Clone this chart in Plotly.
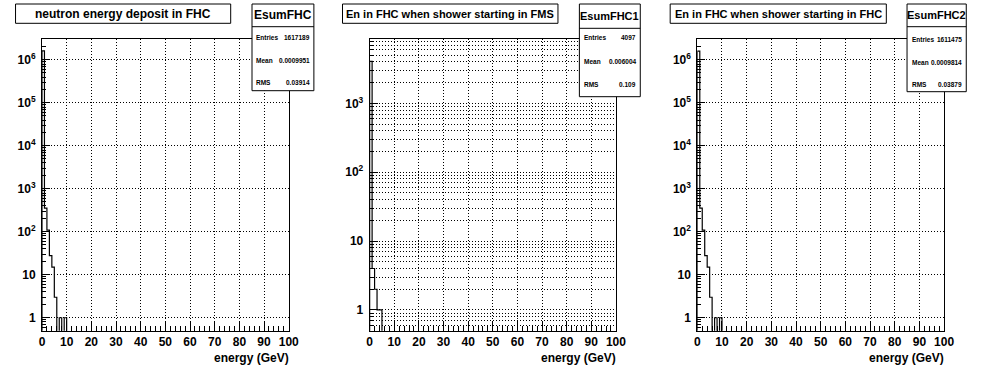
import math
import plotly.graph_objects as go

W, H = 996, 372
FONT = "Liberation Sans, Arial, Helvetica, sans-serif"

# ---------------- data ----------------
bin_width = 1.0                      # GeV per bin
counts_fhc = [1616672, 355, 110, 28, 15, 3, 0, 1, 0, 1]
counts_fhc1 = [4089, 4, 2, 1, 1]
counts_fhc2 = [1610958, 355, 110, 28, 15, 3, 0, 1, 0, 1]

panel_titles = ["neutron energy deposit in FHC",
                "En in FHC when shower starting in FMS",
                "En in FHC when shower starting in FHC"]
hist_names = ["EsumFHC", "EsumFHC1", "EsumFHC2"]
stat_entries = ["1617189", "4097", "1611475"]
stat_means = ["0.0009951", "0.006004", "0.0009814"]
stat_rms = ["0.03914", "0.109", "0.03879"]

x_ticks = [0, 10, 20, 30, 40, 50, 60, 70, 80, 90, 100]
x_minor = [v for v in range(0, 101, 2) if v % 10 != 0]
y_ticks_big = [1, 10, 100, 1000, 10000, 100000, 1000000]
y_ticktext_big = ["1", "10", "10<sup>2</sup>", "10<sup>3</sup>", "10<sup>4</sup>",
                  "10<sup>5</sup>", "10<sup>6</sup>"]
y_ticks_small = [1, 10, 100, 1000]
y_ticktext_small = ["1", "10", "10<sup>2</sup>", "10<sup>3</sup>"]
y_min = 0.5
y_top_log = [6.48, 3.93, 6.48]
x_title = "energy (GeV)"

all_counts = [counts_fhc, counts_fhc1, counts_fhc2]

# ---------------- layout geometry (pixels) ----------------
frames_x = [(39.5, 289.5), (371.5, 621.0), (703.5, 953.5)]
frame_y = (39.3, 330.7)
title_boxes = [(12.7, 230.7), (344.0, 562.3), (676.0, 895.0)]
title_box_y = (4.0, 23.3)
title_sizes = [12, 11, 11]
stat_boxes = [(252.3, 315.0, 90.7, 26.7), (584.0, 645.7, 96.7, 28.3), (916.0, 976.0, 91.7, 26.7)]
stat_name_sizes = [12, 11, 11]
stat_rows = [(37.3, 61.0, 82.7), (37.7, 61.7, 84.0), (39.3, 62.7, 84.3)]
DOT = "1px,2px"


def px(x):
    return x / W


def py(y):
    return 1 - y / H


def step_xy(counts):
    floor = 1e-3
    xs, ys = [0.0], [floor]
    for i, c in enumerate(counts):
        xs.append(i * bin_width)
        ys.append(c if c > 0 else floor)
    xs.append(len(counts) * bin_width)
    ys.append(floor)
    return xs, ys


fig = go.Figure()
layout = dict(width=W, height=H, margin=dict(l=0, r=0, t=0, b=0),
              paper_bgcolor="white", plot_bgcolor="white", showlegend=False,
              font=dict(family=FONT, color="black", size=12))
shapes, annotations = [], []

for k in range(3):
    sfx = "" if k == 0 else str(k + 1)
    xs, ys = step_xy(all_counts[k])
    fig.add_trace(go.Scatter(x=xs, y=ys, mode="lines", line=dict(color="black", width=1.2, shape="hv"),
                             xaxis="x" + sfx, yaxis="y" + sfx, hoverinfo="skip"))
    fx0, fx1 = frames_x[k]
    top = y_top_log[k]
    if k == 1:
        yt, ytt = y_ticks_small, y_ticktext_small
    else:
        yt, ytt = y_ticks_big, y_ticktext_big
    ndec = int(math.floor(top))
    yminor = [m * 10 ** d for d in range(0, ndec + 1) for m in range(2, 10) if m * 10 ** d < 10 ** top]
    yminor = [0.6, 0.7, 0.8, 0.9] + yminor
    layout["xaxis" + sfx] = dict(
        domain=[px(fx0), px(fx1)], anchor="y" + sfx, range=[0, 100],
        tickmode="array", tickvals=x_ticks, ticks="inside", ticklen=9, tickwidth=1, tickcolor="black",
        minor=dict(tickmode="array", tickvals=x_minor, ticks="inside", ticklen=4.5, tickwidth=1,
                   tickcolor="black", showgrid=False),
        showgrid=True, griddash=DOT, gridcolor="black", gridwidth=1,
        showline=True, mirror=True, linecolor="black", linewidth=1, zeroline=False,
        tickfont=dict(family=FONT, size=12, color="black", weight="bold"))
    layout["yaxis" + sfx] = dict(
        domain=[py(frame_y[1]), py(frame_y[0])], anchor="x" + sfx, type="log",
        range=[math.log10(y_min), top],
        tickmode="array", tickvals=yt, ticktext=ytt, ticks="inside", ticklen=8, tickwidth=1, tickcolor="black",
        minor=dict(tickmode="array", tickvals=yminor, ticks="inside", ticklen=4, tickwidth=1,
                   tickcolor="black", showgrid=(k == 1), griddash=DOT, gridcolor="black", gridwidth=1),
        showgrid=True, griddash=DOT, gridcolor="black", gridwidth=1,
        showline=True, mirror=True, linecolor="black", linewidth=1, zeroline=False,
        ticklabelstandoff=3,
        tickfont=dict(family=FONT, size=12, color="black", weight="bold"))

    # title box
    tx0, tx1 = title_boxes[k]
    shapes.append(dict(type="rect", xref="paper", yref="paper", x0=px(tx0), x1=px(tx1),
                       y0=py(title_box_y[1]), y1=py(title_box_y[0]),
                       line=dict(color="black", width=1), fillcolor="white", layer="above"))
    annotations.append(dict(text=panel_titles[k], xref="paper", yref="paper",
                            x=px((tx0 + tx1) / 2), y=py((title_box_y[0] + title_box_y[1]) / 2),
                            xanchor="center", yanchor="middle", showarrow=False,
                            font=dict(family=FONT, size=title_sizes[k], color="black", weight="bold")))
    # stats box
    sx0, sx1, sy1, sep = stat_boxes[k]
    shapes.append(dict(type="rect", xref="paper", yref="paper", x0=px(sx0), x1=px(sx1),
                       y0=py(sy1), y1=py(4.0),
                       line=dict(color="black", width=1), fillcolor="white", layer="above"))
    shapes.append(dict(type="line", xref="paper", yref="paper", x0=px(sx0), x1=px(sx1),
                       y0=py(sep), y1=py(sep), line=dict(color="black", width=1), layer="above"))
    annotations.append(dict(text=hist_names[k], xref="paper", yref="paper",
                            x=px((sx0 + sx1) / 2), y=py((4.0 + sep) / 2),
                            xanchor="center", yanchor="middle", showarrow=False,
                            font=dict(family=FONT, size=stat_name_sizes[k], color="black", weight="bold")))
    for lab, val, yy in zip(["Entries", "Mean", "RMS"],
                            [stat_entries[k], stat_means[k], stat_rms[k]], stat_rows[k]):
        annotations.append(dict(text=lab, xref="paper", yref="paper", x=px(sx0 + 2.5), y=py(yy),
                                xanchor="left", yanchor="middle", showarrow=False,
                                font=dict(family=FONT, size=6.5, color="black", weight="bold")))
        annotations.append(dict(text=val, xref="paper", yref="paper", x=px(sx1 - 2.0), y=py(yy),
                                xanchor="right", yanchor="middle", showarrow=False,
                                font=dict(family=FONT, size=6.5, color="black", weight="bold")))
    # x-axis title
    annotations.append(dict(text=x_title, xref="paper", yref="paper", x=px(fx1 + 2.0), y=py(358.3),
                            xanchor="right", yanchor="middle", showarrow=False,
                            font=dict(family=FONT, size=12, color="black", weight="bold")))

layout["shapes"] = shapes
layout["annotations"] = annotations
fig.update_layout(**layout)
fig.write_html("out.html", config={"displayModeBar": False},
               post_script="document.body.style.margin='0';")
